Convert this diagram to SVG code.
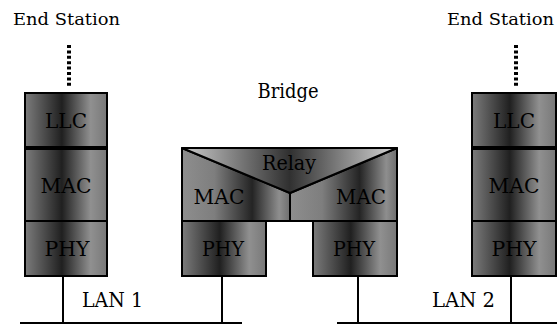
<svg xmlns="http://www.w3.org/2000/svg" width="559" height="324" viewBox="0 0 559 324">
<defs>
<linearGradient id="g" x1="0" y1="0" x2="1" y2="0">
<stop offset="0" stop-color="#7c7c7c"/>
<stop offset="0.45" stop-color="#202020"/>
<stop offset="0.8" stop-color="#909090"/>
<stop offset="1" stop-color="#787878"/>
</linearGradient>
<linearGradient id="gm" x1="0" y1="0" x2="1" y2="0">
<stop offset="0" stop-color="#8e8e8e"/>
<stop offset="0.3" stop-color="#7e7e7e"/>
<stop offset="0.65" stop-color="#242424"/>
<stop offset="0.9" stop-color="#8e8e8e"/>
<stop offset="1" stop-color="#6e6e6e"/>
</linearGradient>
<linearGradient id="gr" x1="0" y1="0" x2="1" y2="0">
<stop offset="0" stop-color="#cccccc"/>
<stop offset="0.5" stop-color="#303030"/>
<stop offset="1" stop-color="#d8d8d8"/>
</linearGradient>
</defs>
<style>
.box{fill:url(#g);stroke:#000;stroke-width:2}
.bm{fill:url(#gm);stroke:#000;stroke-width:2;stroke-linejoin:round}
text{font-family:'DejaVu Serif','Liberation Serif',serif;font-size:20px;fill:#000}
.es{font-size:17.5px}
.t{text-anchor:middle}
.w{stroke:#000;stroke-width:2;fill:none}
.dot{stroke:#000;stroke-width:4;stroke-dasharray:3 2.4;fill:none}
</style>
<g id="end-station-1">
<text class="es" x="13" y="25" textLength="107" lengthAdjust="spacingAndGlyphs">End Station</text>
<rect class="box" x="25" y="93" width="82" height="54"/>
<text class="t" x="66" y="128" textLength="42" lengthAdjust="spacingAndGlyphs">LLC</text>
<rect class="box" x="25" y="149" width="82" height="72"/>
<text class="t" x="66" y="193" textLength="51" lengthAdjust="spacingAndGlyphs">MAC</text>
<rect class="box" x="25" y="221" width="82" height="55"/>
<text class="t" x="67" y="256" textLength="45" lengthAdjust="spacingAndGlyphs">PHY</text>
</g>
<g id="end-station-2">
<text class="es" x="447" y="25" textLength="107" lengthAdjust="spacingAndGlyphs">End Station</text>
<rect class="box" x="472" y="93" width="84" height="54"/>
<text class="t" x="514" y="128" textLength="42" lengthAdjust="spacingAndGlyphs">LLC</text>
<rect class="box" x="472" y="149" width="84" height="72"/>
<text class="t" x="514" y="193" textLength="51" lengthAdjust="spacingAndGlyphs">MAC</text>
<rect class="box" x="472" y="221" width="84" height="55"/>
<text class="t" x="514" y="256" textLength="45" lengthAdjust="spacingAndGlyphs">PHY</text>
</g>
<g id="bridge">
<text class="t" x="288" y="98" textLength="61" lengthAdjust="spacingAndGlyphs">Bridge</text>
<polygon class="bm" points="182,148 290,193 290,221 182,221"/>
<polygon class="bm" points="290,193 397,148 397,221 290,221"/>
<polygon points="182,148 397,148 290,193" fill="url(#gr)" stroke="#000" stroke-width="2" stroke-linejoin="round"/>
<text class="t" x="289" y="170" textLength="54" lengthAdjust="spacingAndGlyphs">Relay</text>
<text class="t" x="219" y="204" textLength="51" lengthAdjust="spacingAndGlyphs">MAC</text>
<text class="t" x="361" y="204" textLength="50" lengthAdjust="spacingAndGlyphs">MAC</text>
<rect class="box" x="182" y="221" width="84" height="55"/>
<text class="t" x="223" y="256" textLength="42" lengthAdjust="spacingAndGlyphs">PHY</text>
<rect class="box" x="313" y="221" width="84" height="55"/>
<text class="t" x="354" y="256" textLength="42" lengthAdjust="spacingAndGlyphs">PHY</text>
</g>
<g id="lan-1">
<text x="82" y="307" textLength="61" lengthAdjust="spacingAndGlyphs">LAN 1</text>
</g>
<g id="lan-2">
<text x="432" y="307" textLength="63" lengthAdjust="spacingAndGlyphs">LAN 2</text>
</g>
<g id="connectors">
<line class="dot" x1="69" y1="45" x2="69" y2="88"/>
<line class="dot" x1="516" y1="45" x2="516" y2="88"/>
<line class="w" x1="20" y1="323" x2="242" y2="323"/>
<line class="w" x1="337" y1="323" x2="557" y2="323"/>
<line class="w" x1="63" y1="276" x2="63" y2="323"/>
<line class="w" x1="222" y1="276" x2="222" y2="323"/>
<line class="w" x1="358" y1="276" x2="358" y2="323"/>
<line class="w" x1="511" y1="276" x2="511" y2="323"/>
</g>
</svg>
